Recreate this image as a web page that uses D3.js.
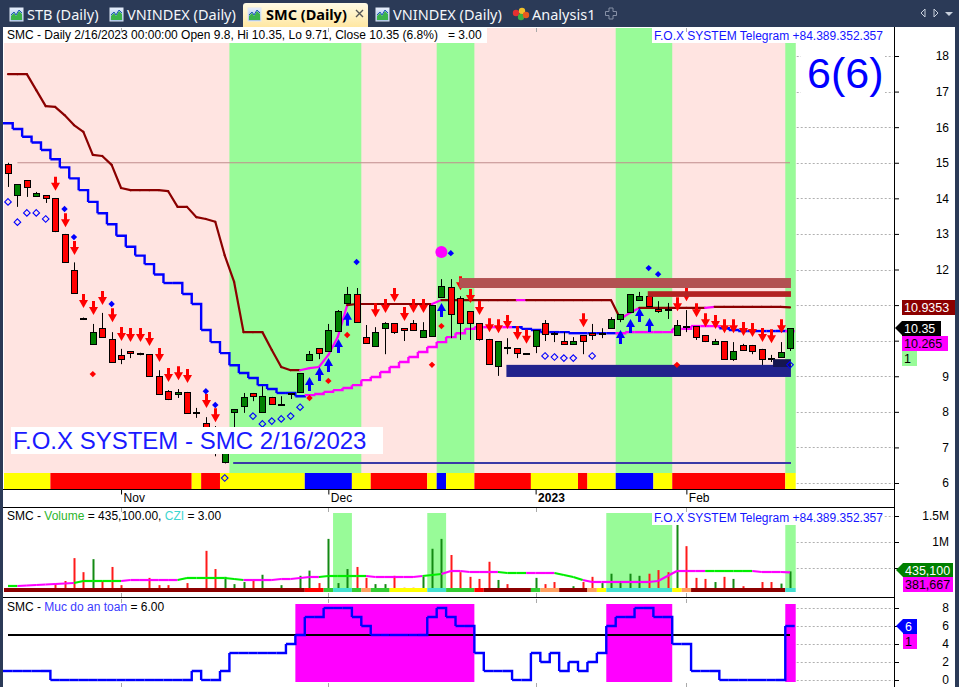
<!DOCTYPE html>
<html><head><meta charset="utf-8">
<script src="https://cdn.jsdelivr.net/npm/d3@7/dist/d3.min.js"></script>
<style>
html,body{margin:0;padding:0;background:#2b3a57;overflow:hidden}
svg{display:block}
</style></head><body>
<svg id="chart" width="959" height="687"></svg>
<script>
// ================= DATA =================
const opens = [14.97,14.09,14.51,14.07,14.09,14.01,13.0,11.99,10.61,9.91,
10.35,10.05,9.60,9.71,9.62,9.62,9.01,8.58,8.50,8.56,
7.97,7.68,7.55,6.59,7.99,8.16,8.53,7.99,8.42,8.19,
8.50,8.56,9.46,9.79,9.71,10.27,11.06,11.31,10.10,9.85,
10.35,10.49,10.35,10.49,10.10,10.13,11.23,11.51,11.20,10.83,
10.49,10.05,9.29,9.79,9.79,9.62,9.85,10.49,10.19,9.99,
9.91,10.16,10.21,10.19,10.35,10.61,10.81,11.14,11.25,10.89,
10.86,10.16,10.38,10.41,10.16,9.91,9.99,9.48,9.88,9.88,
9.77,9.48,9.54,9.8];
const highs = [15.0,14.40,14.51,14.18,14.09,14.01,13.0,12.2,10.65,10.47,
10.78,10.24,9.77,9.71,9.66,9.62,9.17,8.61,8.64,8.56,
8.11,7.85,7.60,7.0,8.08,8.53,8.53,8.72,8.42,8.44,
8.52,9.09,9.71,9.79,10.47,10.86,11.51,11.48,10.44,10.38,
10.52,10.49,10.35,10.58,10.52,11.0,11.73,11.73,11.25,10.83,
10.49,10.05,9.99,10.07,9.79,9.65,10.30,10.58,10.24,10.24,
10.10,10.16,10.47,10.35,10.66,10.75,11.31,11.37,11.31,11.11,
11.06,10.58,10.86,10.41,10.16,10.05,9.99,9.96,9.91,9.88,
9.77,9.60,9.96,10.35];
const lows = [14.32,13.76,14.04,14.04,13.87,13.05,12.2,11.34,10.58,9.91,
10.10,9.40,9.34,9.51,9.59,9.01,8.50,8.33,8.39,7.97,
7.83,7.57,6.75,6.55,7.5,7.97,8.30,7.99,8.22,8.19,
8.36,8.56,9.46,9.48,9.71,10.27,11.06,10.52,9.93,9.85,
9.62,10.19,9.99,10.30,10.10,10.13,11.23,10.07,10.02,10.02,
10.0,9.34,9.01,9.62,9.51,9.62,9.65,9.99,9.96,9.91,
9.91,9.62,10.02,10.07,10.35,10.52,10.81,11.14,10.97,10.78,
10.61,10.16,10.24,10.02,9.96,9.88,9.48,9.43,9.74,9.62,
9.31,9.40,9.54,9.71];
const closes = [14.71,14.40,14.32,14.15,14.01,13.08,12.21,11.34,10.61,10.24,
10.10,9.40,9.48,9.65,9.62,9.01,8.50,8.36,8.56,7.97,
7.97,7.57,6.85,6.84,8.08,8.42,8.44,8.44,8.22,8.20,
8.50,9.09,9.62,9.65,10.30,10.83,11.31,10.52,9.93,10.24,
10.49,10.24,10.30,10.30,10.30,11.0,11.54,10.75,10.49,10.49,
10.05,9.34,9.99,9.79,9.65,9.65,10.30,10.19,10.19,9.91,
9.99,9.99,10.16,10.20,10.61,10.75,11.31,11.25,10.97,10.83,
10.86,10.44,10.38,10.10,9.99,9.99,9.48,9.71,9.74,9.71,
9.48,9.48,9.69,10.35];
const volumes = [100000,80000,60000,60000,60000,190000,250000,690000,420000,670000,
250000,520000,170000,80000,80000,310000,170000,170000,100000,210000,
100000,830000,480000,330000,190000,230000,270000,370000,100000,170000,
100000,350000,450000,210000,1060000,210000,480000,520000,310000,190000,
190000,350000,120000,120000,330000,870000,1060000,750000,420000,330000,
290000,620000,270000,190000,100000,80000,310000,190000,230000,100000,
150000,230000,330000,210000,390000,250000,390000,350000,390000,460000,
420000,1350000,920000,310000,290000,230000,330000,290000,150000,100000,
230000,230000,200000,435100];
const volumeMA = [154000,154000,163000,173000,183000,192000,202000,212000,250000,250000,
250000,250000,250000,269000,269000,269000,269000,269000,269000,308000,
308000,308000,308000,308000,288000,269000,269000,269000,269000,288000,
288000,308000,327000,327000,346000,346000,346000,346000,346000,327000,
327000,327000,327000,327000,346000,365000,385000,442000,442000,423000,
423000,423000,423000,404000,404000,404000,404000,404000,404000,365000,
327000,269000,231000,231000,231000,231000,231000,231000,231000,250000,
346000,442000,442000,442000,442000,442000,442000,442000,442000,442000,
423000,423000,423000,417000];
const volumeMAState = "GGMMMMMMGGGGGMMMMMMGGGGGGGMMMMMMMMGGGGGMMMMMMGGMMMMMMGGGMMMGGGMMMMMMMMMMMMMGGGGGMMMM";
const upperStop = [17.49,17.49,17.49,17.04,16.59,16.57,16.34,16.06,15.87,15.22,
15.19,14.94,14.29,14.23,14.23,14.23,14.23,14.20,13.76,13.76,
13.47,13.42,13.34,12.40,11.65,10.24,10.24,10.24,9.74,9.26,
9.17,9.17,9.23,9.26,9.60,10.10,11.00,11.03,11.03,11.03,
11.03,11.03,11.03,11.03,11.03,11.03,11.14,11.14,11.14,11.14,
11.14,11.14,11.14,11.14,11.14,11.14,11.14,11.14,11.14,11.14,
11.14,11.14,11.14,11.14,11.14,10.61,10.78,10.92,10.92,10.92,
10.92,10.92,10.92,10.92,10.92,10.95,10.95,10.95,10.95,10.95,
10.95,10.95,10.95,10.9353];
const upperStopState = "DDDDDDDDDDDDDDDDDDDDDDDDDDDDDDDDMMMMMDDDDDDDDDMDDDDDDDDMDDDDDDDDDDMMDDDDDDDMDDDDDDDD";
const lowerStop = [16.11,15.95,15.73,15.57,15.36,15.10,14.87,14.56,14.23,13.90,
13.58,13.27,12.95,12.64,12.39,12.15,11.86,11.62,11.62,11.31,
11.03,10.30,9.96,9.65,9.31,9.09,8.95,8.75,8.64,8.53,
8.53,8.44,8.47,8.50,8.56,8.61,8.67,8.75,8.89,8.98,
9.12,9.26,9.40,9.54,9.68,9.82,9.96,10.10,10.21,10.33,
10.38,10.38,10.38,10.38,10.38,10.33,10.30,10.24,10.24,10.24,
10.21,10.21,10.21,10.21,10.21,10.21,10.24,10.24,10.24,10.24,
10.24,10.33,10.33,10.41,10.41,10.41,10.35,10.30,10.27,10.27,
10.27,10.27,10.27,10.265];
const lowerStopState = "BBBBBBBBBBBBBBBBBBBBBBBBBBBBBBBBMMMMMMMMMMMMMMMMMMMMMMBBBBBBBBBBBMMMMMMMMMMMBBBBBBBM";
const safetyLevel = [1,1,1,1,1,0,0,0,0,0,0,0,0,0,0,0,0,0,0,0,
1,0,0,1,3,3,3,3,3,3,4,5,7,7,8,8,8,7,6,5,
5,5,5,5,5,7,8,7,6,6,3,1,1,1,0,0,3,2,3,1,
2,1,2,3,6,7,7,8,8,7,7,4,4,1,1,1,0,0,0,0,
0,0,0,6];
const trendZones = [[24,37],[46,49],[65,70],[83,83]];
const signalStrip = "YYYYYRRRRRRRRRRRRRRRYRRYYYYYYYYYBBBBBYYRRRRRRYBYYYRRRRRRYYYYYRYYYBBBBYYRRRRRRRRRRRRY";
const volumeStrip = "DDDDDDDDDDDDDDDDDDDDDDDDDDDDDDDDRRGCCGOGGYYYYCCGGGRDDDDDGOODDDOYCCCCCCCYODDDDDDDDDDC";
const priceTicks = [6,7,8,9,10,11,12,13,14,15,16,17,18];
const volumeTicks = [500000,1000000,1500000];
const volumeTickLabels = ["500,000","1M","1.5M"];
const safetyTicks = [0,2,4,6,8];
const monthTicks = [12,34,56,72];
const monthLabels = ["Nov","Dec","2023","Feb"];
const sellArrows = [[5,14.21],[6,13.19],[7,12.41],[8,10.92],[9,10.72],[10,11.0],[11,10.52],[12,9.99],[13,9.96],[14,9.96],[15,9.85],[16,9.40],[17,8.84],[18,8.89],[19,8.81],[21,8.11],[22,7.71],[39,10.66],[40,10.78],[41,11.09],[42,10.55],[43,10.78],[44,10.78],[48,11.42],[49,11.06],[50,10.72],[51,10.24],[52,10.21],[53,10.33],[54,10.02],[55,9.91],[61,10.38],[71,10.83],[72,11.11],[73,10.66],[74,10.38],[75,10.33],[76,10.21],[77,10.21],[78,10.13],[79,10.10],[80,9.96],[81,9.93],[82,10.21]];
const buyArrows = [[32,8.98],[33,9.26],[34,9.51],[35,10.05],[36,10.81],[46,11.06],[65,10.30],[66,10.61],[67,10.92],[68,10.64]];
const redDots = [[9,9.06],[32,8.39],[34,8.87],[36,10.16],[45,9.32],[46,10.41],[71,9.32]];
const blueDots = [[6,13.70],[7,12.91],[11,11.03],[21,8.58],[22,8.19],[37,12.21],[47,12.46],[68,12.04],[69,11.87]];
const magentaDots = [[46,12.49]];
const hollowDiamonds = [[0,13.90],[1,13.33],[2,13.59],[3,13.59],[4,13.42],[23,6.14],[26,7.88],[27,7.66],[28,7.74],[29,7.80],[30,7.88],[31,8.13],[57,9.57],[58,9.54],[59,9.51],[60,9.51],[62,9.57],[83,9.32]];
const zoneFrom = [47.9, 67.9, 52.9, 81.2];
const zoneTo   = [83.1, 83.1, 83.1, 83.1];
const zoneLo   = [11.48, 11.23, 8.98, 9.26];
const zoneHi   = [11.76, 11.39, 9.32, 9.48];
const refLineFrom = [1, 23.9];
const refLineValue = [15.0, 6.56];
const lastUpperStop = 10.9353, lastLowerStop = 10.265, lastVolMA = 381667, czi = 3.00, safetyValue = 6.00;
const tabLabels = ["STB (Daily)","VNINDEX (Daily)","SMC (Daily)","VNINDEX (Daily)","Analysis1"];

// ================= DRAW =================
const svg = d3.select("#chart");
const F = '"Liberation Sans", Arial, sans-serif';
const N = closes.length;
const x = d3.scaleLinear().domain([0, N - 1]).range([8, 790]);
const bw = x(1) - x(0);
const y = d3.scaleLinear().domain([6, 18]).range([483, 56]);
const yv = d3.scaleLinear().domain([0, 1500000]).range([594, 516]);
const ys = d3.scaleLinear().domain([0, 8]).range([680, 608]);
const AX = 894, PL = 4, PR = x(N - 1) + bw / 2 + 1;
const lo = i => (i === 0 ? PL : x(i) - bw / 2);
const hi = i => (i === N - 1 ? PR : x(i) + bw / 2);
// group consecutive bars with the same key into runs [key, from, to]
function runs(keyOf) {
  const out = [];
  for (let i = 0; i < N; i++) {
    const k = keyOf(i);
    if (out.length && out[out.length - 1][0] === k && out[out.length - 1][2] === i - 1) out[out.length - 1][2] = i;
    else out.push([k, i, i]);
  }
  return out;
}

const defs = svg.append("defs");
const tg = defs.append("linearGradient").attr("id", "tabG").attr("x1", 0).attr("y1", 0).attr("x2", 0).attr("y2", 1);
tg.append("stop").attr("offset", 0).attr("stop-color", "#fffbe6");
tg.append("stop").attr("offset", 1).attr("stop-color", "#ffe7a2");
const ig = defs.append("linearGradient").attr("id", "icoG").attr("x1", 0).attr("y1", 0).attr("x2", 0).attr("y2", 1);
ig.append("stop").attr("offset", 0).attr("stop-color", "#eaf2ff");
ig.append("stop").attr("offset", 1).attr("stop-color", "#7fa6d8");

// frame
svg.append("rect").attr("width", 959).attr("height", 687).attr("fill", "#2b3a57");
svg.append("rect").attr("x", 3).attr("y", 27).attr("width", 952).attr("height", 660).attr("fill", "#fff");

// ---- tabs ----
const tb = svg.append("g").attr("font-family", '"Noto Sans","Open Sans",sans-serif').attr("font-size", 14.5);
tb.append("path").attr("d", "M243,27V6a3,3 0 0 1 3,-3H365a3,3 0 0 1 3,3V27Z").attr("fill", "url(#tabG)");
const tabX = [27, 127, 266, 393, 532];
const icoX = [10, 110, 248, 376];
icoX.forEach(ix => {
  const g = tb.append("g");
  g.append("rect").attr("x", ix).attr("y", 8).attr("width", 13).attr("height", 13).attr("fill", "url(#icoG)").attr("stroke", "#dfe8f5").attr("stroke-width", 1);
  g.append("path").attr("d", `M${ix+1},20L${ix+1},16L${ix+4},13L${ix+6},16L${ix+9},11L${ix+12},14L${ix+12},20Z`).attr("fill", "#3bb34a");
  g.append("path").attr("d", `M${ix+1},15L${ix+4},12L${ix+6},15L${ix+9},10L${ix+12},13`).attr("fill", "none").attr("stroke", "#1c58b5").attr("stroke-width", 1);
});
[[516,13,"#e53030"],[522,11,"#f2c02a"],[521,17,"#3cb043"],[526,15,"#e85a1e"]].forEach(c =>
  tb.append("circle").attr("cx", c[0]).attr("cy", c[1]).attr("r", 3.2).attr("fill", c[2]));
tabLabels.forEach((t, i) => {
  tb.append("text").attr("x", tabX[i]).attr("y", 20).text(t)
    .attr("fill", i === 2 ? "#000" : "#f4f6fa").attr("font-weight", i === 2 ? "bold" : "normal");
});
tb.append("path").attr("d", "M356,10L363,17M363,10L356,17").attr("stroke", "#555").attr("stroke-width", 1.4);
tb.append("path").attr("d", "M609,8h4v3.5h3.5v4h-3.5v3.5h-4v-3.5h-3.5v-4h3.5Z").attr("fill", "none").attr("stroke", "#8690a6").attr("stroke-width", 1);
tb.append("path").attr("d", "M925,9L921,13L925,17Z").attr("fill", "none").attr("stroke", "#c8cfdc").attr("stroke-width", 1);
tb.append("path").attr("d", "M934,9L938,13L934,17Z").attr("fill", "none").attr("stroke", "#c8cfdc").attr("stroke-width", 1);
tb.append("path").attr("d", "M945,12H953L949,16Z").attr("fill", "#c8cfdc");

// ---- main pane ----
const gm = svg.append("g");
gm.append("rect").attr("x", PL).attr("y", 28).attr("width", PR - PL).attr("height", 445).attr("fill", "#ffe4e1");
trendZones.forEach(([a, b]) =>
  gm.append("rect").attr("x", lo(a)).attr("y", 28).attr("width", hi(b) - lo(a)).attr("height", 445).attr("fill", "#98fb98"));
const stripCol = { Y: "#ffff00", R: "#ff0000", B: "#0000ff" };
runs(i => signalStrip[i]).forEach(([c, a, b]) =>
  gm.append("rect").attr("x", lo(a)).attr("y", 473).attr("width", hi(b) - lo(a)).attr("height", 16).attr("fill", stripCol[c]));

priceTicks.forEach(t => gm.append("line").attr("x1", PR + 1).attr("x2", AX - 1).attr("y1", Math.round(y(t)) + 0.5).attr("y2", Math.round(y(t)) + 0.5)
  .attr("stroke", "#b0b0b0").attr("stroke-dasharray", "2,2"));

gm.append("line").attr("x1", x(refLineFrom[0])).attr("x2", x(N - 1)).attr("y1", y(refLineValue[0])).attr("y2", y(refLineValue[0])).attr("stroke", "#c08c8c").attr("stroke-width", 1);
gm.append("line").attr("x1", x(refLineFrom[1])).attr("x2", x(N - 1) + 1).attr("y1", y(refLineValue[1])).attr("y2", y(refLineValue[1])).attr("stroke", "#3a3aa6").attr("stroke-width", 2);

const upCol = { D: "#8b0000", M: "#ff00ff" };
for (let i = 1; i < N; i++) {
  gm.append("line").attr("x1", x(i - 1)).attr("y1", y(upperStop[i - 1])).attr("x2", x(i)).attr("y2", y(upperStop[i]))
    .attr("stroke", upCol[upperStopState[i]]).attr("stroke-width", 2.2).attr("stroke-linecap", "round");
}
const lowCol = { B: "#0000ff", M: "#ff00ff" };
for (let i = 0; i < N; i++) {
  let d = `M${i === 0 ? 3 : x(i) - bw / 2},${y(lowerStop[i])}H${x(i) + bw / 2}`;
  if (i < N - 1) d += `V${y(lowerStop[i + 1])}`;
  gm.append("path").attr("d", d).attr("fill", "none").attr("stroke", lowCol[lowerStopState[i]]).attr("stroke-width", 2.4);
}

for (let i = 0; i < N; i++) {
  const cx = Math.round(x(i)) + 0.5;
  gm.append("line").attr("x1", cx).attr("x2", cx).attr("y1", y(highs[i])).attr("y2", y(lows[i])).attr("stroke", "#000").attr("stroke-width", 1);
  if (Math.abs(closes[i] - opens[i]) < 0.02) {
    gm.append("rect").attr("x", cx - 3.5).attr("y", Math.round(y(closes[i])) - 1).attr("width", 7).attr("height", 2).attr("fill", "#000");
  } else {
    const t = Math.round(y(Math.max(opens[i], closes[i]))) + 0.5;
    const b = Math.round(y(Math.min(opens[i], closes[i]))) + 0.5;
    gm.append("rect").attr("x", cx - 3).attr("y", t).attr("width", 6).attr("height", Math.max(1, b - t))
      .attr("fill", closes[i] > opens[i] ? "#008000" : "#ff0000").attr("stroke", "#000").attr("stroke-width", 1);
  }
}
sellArrows.forEach(([i, v]) => {
  const cx = Math.round(x(i)) + 0.5, t = y(v);
  gm.append("path").attr("d", `M${cx-1.5},${t-14}h3v6h3L${cx},${t}L${cx-4.5},${t-8}h3Z`).attr("fill", "#ff0000");
});
buyArrows.forEach(([i, v]) => {
  const cx = Math.round(x(i)) + 0.5, t = y(v);
  gm.append("path").attr("d", `M${cx-1.5},${t+14}h3v-6h3L${cx},${t}L${cx-4.5},${t+8}h3Z`).attr("fill", "#0000ff");
});
const zoneCol = ["#b25252", "#b22222", "#22228c", "#161650"];
zoneFrom.forEach((f, k) =>
  gm.append("rect").attr("x", x(f)).attr("y", y(zoneHi[k])).attr("width", x(zoneTo[k]) - x(f)).attr("height", y(zoneLo[k]) - y(zoneHi[k])).attr("fill", zoneCol[k]));
const dia = (cx, cy, r) => `M${cx},${cy-r}L${cx+r},${cy}L${cx},${cy+r}L${cx-r},${cy}Z`;
redDots.forEach(([i, v]) => gm.append("path").attr("d", dia(x(i), y(v), 3.2)).attr("fill", "#ff0000"));
blueDots.forEach(([i, v]) => gm.append("path").attr("d", dia(x(i), y(v), 3.2)).attr("fill", "#0000ff"));
hollowDiamonds.forEach(([i, v]) => gm.append("path").attr("d", dia(x(i), y(v), 3.3)).attr("fill", "none").attr("stroke", "#0000ff").attr("stroke-width", 1.1));
magentaDots.forEach(([i, v]) => gm.append("circle").attr("cx", x(i)).attr("cy", y(v)).attr("r", 6).attr("fill", "#ff00ff"));

const last = N - 1;
const pct = ((closes[last] / closes[last - 1] - 1) * 100).toFixed(1);
gm.append("rect").attr("x", 3).attr("y", 27).attr("width", 484).attr("height", 16).attr("fill", "#fff");
gm.append("text").attr("x", 7).attr("y", 39).attr("font-family", F).attr("font-size", 12).attr("xml:space", "preserve").style("white-space", "pre")
  .text(`SMC - Daily 2/16/2023 00:00:00 Open ${opens[last]}, Hi ${highs[last]}, Lo ${lows[last]}, Close ${closes[last]} (${pct}%)   = ${czi.toFixed(2)}`);
gm.append("rect").attr("x", 652).attr("y", 28).attr("width", 232).attr("height", 15).attr("fill", "#fff");
gm.append("text").attr("x", 654).attr("y", 40).attr("font-family", F).attr("font-size", 12).attr("fill", "#1414ff").text("F.O.X SYSTEM Telegram +84.389.352.357");
gm.append("rect").attr("x", 801).attr("y", 47).attr("width", 84).attr("height", 50).attr("fill", "#fff");
gm.append("text").attr("x", 807).attr("y", 88).attr("font-family", F).attr("font-size", 43).attr("fill", "#0000ff").text(`${safetyLevel[last]}(${safetyLevel[last]})`);
gm.append("rect").attr("x", 11).attr("y", 427).attr("width", 372).attr("height", 27).attr("fill", "#fff");
gm.append("text").attr("x", 13).attr("y", 449).attr("font-family", F).attr("font-size", 24).attr("fill", "#1a1aff").text("F.O.X SYSTEM - SMC 2/16/2023");

// price axis (labels hidden behind value tags are not drawn)
const hiddenPrice = [10, 11];
const ga = svg.append("g").attr("transform", `translate(${AX},0)`)
  .call(d3.axisRight(y).tickValues(priceTicks).tickSize(5).tickFormat(d => hiddenPrice.includes(d) ? "" : d3.format("d")(d)));
ga.select(".domain").remove();
ga.attr("font-family", F).attr("font-size", 12);
ga.selectAll("line").attr("stroke", "#000");
ga.selectAll("text").attr("x", 55).attr("text-anchor", "end").attr("fill", "#000");

svg.append("line").attr("x1", 3).attr("x2", AX).attr("y1", 489.5).attr("y2", 489.5).attr("stroke", "#000");
const gd = svg.append("g").attr("transform", "translate(0,489.5)")
  .call(d3.axisBottom(x).tickValues(monthTicks).tickSize(5).tickFormat((d, i) => monthLabels[i]));
gd.select(".domain").remove();
gd.attr("font-family", F).attr("font-size", 12);
gd.selectAll("line").attr("stroke", "#000");
gd.selectAll("text").attr("text-anchor", "start").attr("x", 2).attr("y", 4).attr("fill", "#000")
  .attr("font-weight", (d, i) => monthLabels[i] === "2023" ? "bold" : "normal");

// ---- volume pane ----
const gv = svg.append("g");
gv.append("line").attr("x1", 3).attr("x2", AX).attr("y1", 507.5).attr("y2", 507.5).attr("stroke", "#000");
runs(i => volumeStrip[i] === "C").forEach(([k, a, b]) => {
  if (k) gv.append("rect").attr("x", lo(a)).attr("y", 513).attr("width", hi(b) - lo(a)).attr("height", 75).attr("fill", "#98fb98");
});
volumeTicks.forEach(t => gv.append("line").attr("x1", PR + 1).attr("x2", AX - 1).attr("y1", Math.round(yv(t)) + 0.5).attr("y2", Math.round(yv(t)) + 0.5)
  .attr("stroke", "#b0b0b0").attr("stroke-dasharray", "2,2"));
volumes.forEach((v, i) => {
  gv.append("rect").attr("x", Math.round(x(i)) - 0.5).attr("y", yv(v)).attr("width", 2).attr("height", 592 - yv(v))
    .attr("fill", closes[i] > opens[i] ? "#138a13" : "#ff1a1a");
});
const maCol = { G: "#00ee00", M: "#ff00ff" };
for (let i = 1; i < N; i++) {
  gv.append("line").attr("x1", x(i - 1)).attr("y1", yv(volumeMA[i - 1])).attr("x2", x(i)).attr("y2", yv(volumeMA[i]))
    .attr("stroke", maCol[volumeMAState[i]]).attr("stroke-width", 2.2);
}
const vCol = { D: "#8b0000", R: "#ff0000", G: "#32cd32", C: "#40e0d0", O: "#ffa060", Y: "#ffff00" };
runs(i => volumeStrip[i]).forEach(([c, a, b]) =>
  gv.append("rect").attr("x", lo(a)).attr("y", 588).attr("width", hi(b) - lo(a)).attr("height", 4).attr("fill", vCol[c]));
const vt = gv.append("text").attr("x", 7).attr("y", 520).attr("font-family", F).attr("font-size", 12).attr("xml:space", "preserve").style("white-space", "pre");
vt.append("tspan").text("SMC - ");
vt.append("tspan").attr("fill", "#2db52d").text("Volume");
vt.append("tspan").text(` = ${d3.format(",.2f")(volumes[last])}, `);
vt.append("tspan").attr("fill", "#3cd6d0").text("CZI");
vt.append("tspan").text(` = ${czi.toFixed(2)}`);
gv.append("rect").attr("x", 652).attr("y", 511).attr("width", 232).attr("height", 14).attr("fill", "#fff");
gv.append("text").attr("x", 654).attr("y", 522).attr("font-family", F).attr("font-size", 12).attr("fill", "#1414ff").text("F.O.X SYSTEM Telegram +84.389.352.357");
const hiddenVol = [500000];
const gva = svg.append("g").attr("transform", `translate(${AX},0)`)
  .call(d3.axisRight(yv).tickValues(volumeTicks).tickSize(5).tickFormat((d, i) => hiddenVol.includes(d) ? "" : volumeTickLabels[i]));
gva.select(".domain").remove();
gva.attr("font-family", F).attr("font-size", 12);
gva.selectAll("line").attr("stroke", "#000");
gva.selectAll("text").attr("x", 55).attr("text-anchor", "end").attr("fill", "#000");

// ---- safety pane ----
const gs = svg.append("g");
gs.append("line").attr("x1", 3).attr("x2", AX).attr("y1", 597.5).attr("y2", 597.5).attr("stroke", "#000");
safetyTicks.forEach(t => gs.append("line").attr("x1", PR + 1).attr("x2", AX - 1).attr("y1", Math.round(ys(t)) + 0.5).attr("y2", Math.round(ys(t)) + 0.5)
  .attr("stroke", "#b0b0b0").attr("stroke-dasharray", "2,2"));
runs(i => safetyLevel[i] >= 5).forEach(([k, a, b]) => {
  if (k) gs.append("rect").attr("x", lo(a)).attr("y", 604).attr("width", hi(b) - lo(a)).attr("height", 78).attr("fill", "#ff00ff");
});
gs.append("line").attr("x1", x(0)).attr("x2", x(N - 1)).attr("y1", ys(5)).attr("y2", ys(5)).attr("stroke", "#000").attr("stroke-width", 2);
for (let i = 0; i < N; i++) {
  let d = `M${i === 0 ? 3 : x(i) - bw / 2},${ys(safetyLevel[i])}H${x(i) + bw / 2}`;
  if (i < N - 1) d += `V${ys(safetyLevel[i + 1])}`;
  gs.append("path").attr("d", d).attr("fill", "none").attr("stroke", "#0000ff").attr("stroke-width", 2.4);
}
const st = gs.append("text").attr("x", 7).attr("y", 611).attr("font-family", F).attr("font-size", 12).attr("xml:space", "preserve").style("white-space", "pre");
st.append("tspan").text("SMC - ");
st.append("tspan").attr("fill", "#3a3aff").text("Muc do an toan");
st.append("tspan").text(` = ${safetyValue.toFixed(2)}`);
const gsa = svg.append("g").attr("transform", `translate(${AX},0)`)
  .call(d3.axisRight(ys).tickValues(safetyTicks).tickSize(5).tickFormat(d3.format("d")));
gsa.select(".domain").remove();
gsa.attr("font-family", F).attr("font-size", 12);
gsa.selectAll("line").attr("stroke", "#000");
gsa.selectAll("text").attr("x", 55).attr("text-anchor", "end").attr("fill", "#000");

monthTicks.forEach(m => {
  [[28, 32], [508, 512], [593, 597], [599, 603], [683, 687]].forEach(([a, b]) =>
    svg.append("line").attr("x1", Math.round(x(m)) + 0.5).attr("x2", Math.round(x(m)) + 0.5).attr("y1", a).attr("y2", b).attr("stroke", "#aaa"));
});

svg.append("line").attr("x1", AX + 0.5).attr("x2", AX + 0.5).attr("y1", 27).attr("y2", 687).attr("stroke", "#000");

// ---- value tags ----
function tag(x0, yTop, w, text, bg, fg, pointer) {
  const g = svg.append("g");
  if (pointer) g.append("path").attr("d", `M${x0-7},${yTop+7}L${x0},${yTop}V${yTop+14}Z`).attr("fill", bg);
  g.append("rect").attr("x", x0).attr("y", yTop).attr("width", w).attr("height", 15).attr("fill", bg);
  g.append("text").attr("x", x0 + 2).attr("y", yTop + 12).attr("font-family", F).attr("font-size", 12.5).attr("fill", fg).text(text);
}
tag(902, Math.round(y(lastUpperStop)) - 7, 53, String(lastUpperStop), "#8b0000", "#fff", false);
tag(902, Math.round(y(closes[last])) - 7, 39, String(closes[last]), "#000", "#fff", true);
tag(902, 336, 46, String(lastLowerStop), "#ff00ff", "#000", false);
tag(902, 351, 15, "1", "#98fb98", "#000", false);
tag(903, Math.round(yv(volumes[last])) - 8, 50, d3.format(",")(volumes[last]), "#008000", "#fff", true);
tag(903, 577, 50, d3.format(",")(lastVolMA), "#ff00ff", "#000", false);
tag(903, Math.round(ys(safetyLevel[last])) - 7, 14, String(safetyLevel[last]), "#0000ff", "#fff", true);
tag(903, 634, 14, "1", "#ff00ff", "#000", false);
</script>
</body></html>
